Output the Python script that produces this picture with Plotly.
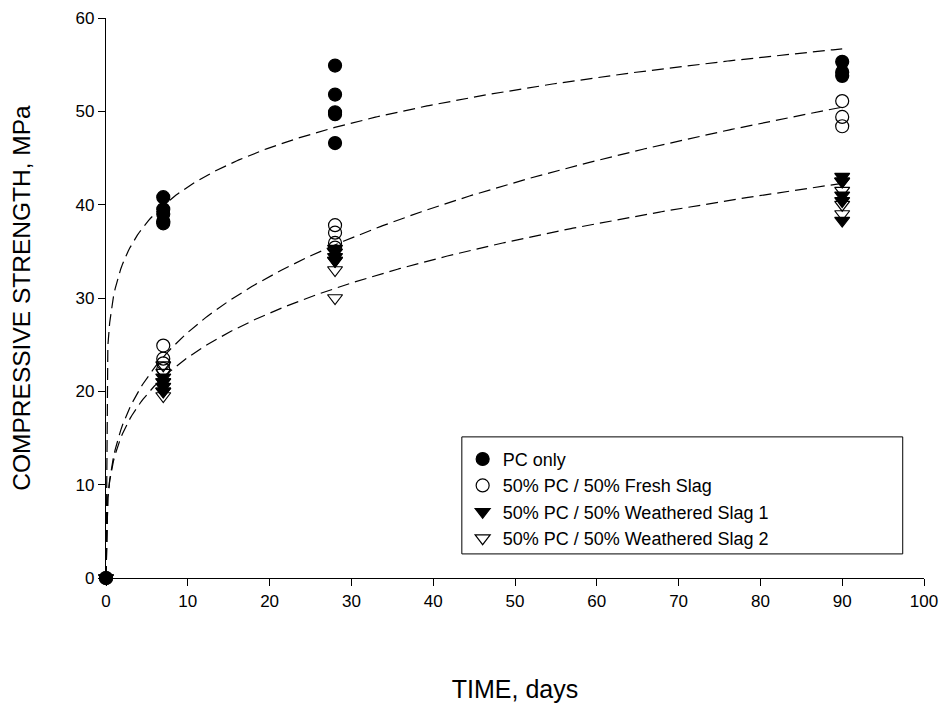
import numpy as np
import plotly.graph_objects as go

# measured compressive strength (MPa) at each age (days)
pc_days = [0, 7, 7, 7, 7, 7, 28, 28, 28, 28, 28, 90, 90, 90]
pc_mpa = [0, 40.8, 39.5, 39.0, 38.2, 38.0, 54.9, 51.8, 49.9, 49.7, 46.6, 55.3, 54.2, 53.8]

fresh_days = [0, 7, 7, 7, 7, 28, 28, 28, 28, 90, 90, 90]
fresh_mpa = [0, 24.9, 23.5, 23.0, 22.4, 37.8, 37.0, 35.9, 35.4, 51.1, 49.4, 48.4]

ws1_days = [0, 7, 7, 7, 7, 28, 28, 28, 28, 90, 90, 90, 90, 90]
ws1_mpa = [0, 21.5, 21.0, 20.5, 20.0, 35.3, 34.9, 34.4, 34.0, 43.0, 42.5, 41.0, 40.4, 38.3]

ws2_days = [0, 7, 7, 7, 7, 7, 28, 28, 28, 90, 90, 90, 90]
ws2_mpa = [0, 22.8, 22.0, 21.0, 20.0, 19.5, 34.0, 33.0, 30.0, 42.5, 41.5, 40.0, 39.0]

x_ticks = [0, 10, 20, 30, 40, 50, 60, 70, 80, 90, 100]
y_ticks = [0, 10, 20, 30, 40, 50, 60]


def power_fit(days, mpa):
    # regression y = a * x^b on the non-zero ages
    d = np.array(days, dtype=float)
    m = np.array(mpa, dtype=float)
    keep = d > 0
    b, ln_a = np.polyfit(np.log(d[keep]), np.log(m[keep]), 1)
    xs = np.linspace(0, 90, 400)
    return xs, np.exp(ln_a) * xs ** b


fig = go.Figure()

fits = [
    (pc_days, pc_mpa),
    (fresh_days, fresh_mpa),
    (ws1_days + ws2_days, ws1_mpa + ws2_mpa),
]
for days, mpa in fits:
    xs, ys = power_fit(days, mpa)
    fig.add_trace(go.Scatter(x=xs, y=ys, mode='lines', showlegend=False,
                             hoverinfo='skip',
                             line=dict(color='black', width=1.2, dash='12px,6px')))

series = [
    ('PC only', pc_days, pc_mpa, 'circle'),
    ('50% PC / 50% Fresh Slag', fresh_days, fresh_mpa, 'circle-open'),
    ('50% PC / 50% Weathered Slag 1', ws1_days, ws1_mpa, 'triangle-down'),
    ('50% PC / 50% Weathered Slag 2', ws2_days, ws2_mpa, 'triangle-down-open'),
]
for name, days, mpa, sym in series:
    fig.add_trace(go.Scatter(x=days, y=mpa, mode='markers', name=name,
                             cliponaxis=False,
                             marker=dict(symbol=sym, size=13, color='black',
                                         line=dict(color='black', width=1.2))))

font_family = 'Arial, Liberation Sans, sans-serif'
tick_font = dict(family=font_family, size=17, color='black')

# the page body adds an 8px offset, so the figure is 8px smaller than the window
fig.update_layout(
    width=941, height=703,
    margin=dict(l=98, r=25, t=10, b=133, autoexpand=False),
    paper_bgcolor='white', plot_bgcolor='white',
    font=dict(family=font_family, color='black'),
    xaxis=dict(range=[0, 100], tickvals=x_ticks, showgrid=False, zeroline=False,
               showline=True, linecolor='black', linewidth=1.2,
               ticks='outside', ticklen=7, tickcolor='black',
               tickfont=tick_font, automargin=False,
               title=dict(text='TIME, days', font=dict(size=25), standoff=70)),
    yaxis=dict(range=[0, 60], tickvals=y_ticks, showgrid=False, zeroline=False,
               showline=True, linecolor='black', linewidth=1.2,
               ticks='outside', ticklen=7, tickcolor='black',
               tickfont=tick_font, automargin=False,
               title=dict(text='COMPRESSIVE STRENGTH, MPa', font=dict(size=24.5), standoff=46)),
    legend=dict(x=0.436, y=0.245, xanchor='left', yanchor='top',
                bgcolor='rgba(0,0,0,0)', borderwidth=0,
                font=dict(size=18), tracegroupgap=0),
    shapes=[dict(type='rect', xref='paper', yref='paper',
                 x0=0.435, x1=0.974, y0=0.043, y1=0.252,
                 line=dict(color='black', width=1))],
)

fig.write_html("out.html")
